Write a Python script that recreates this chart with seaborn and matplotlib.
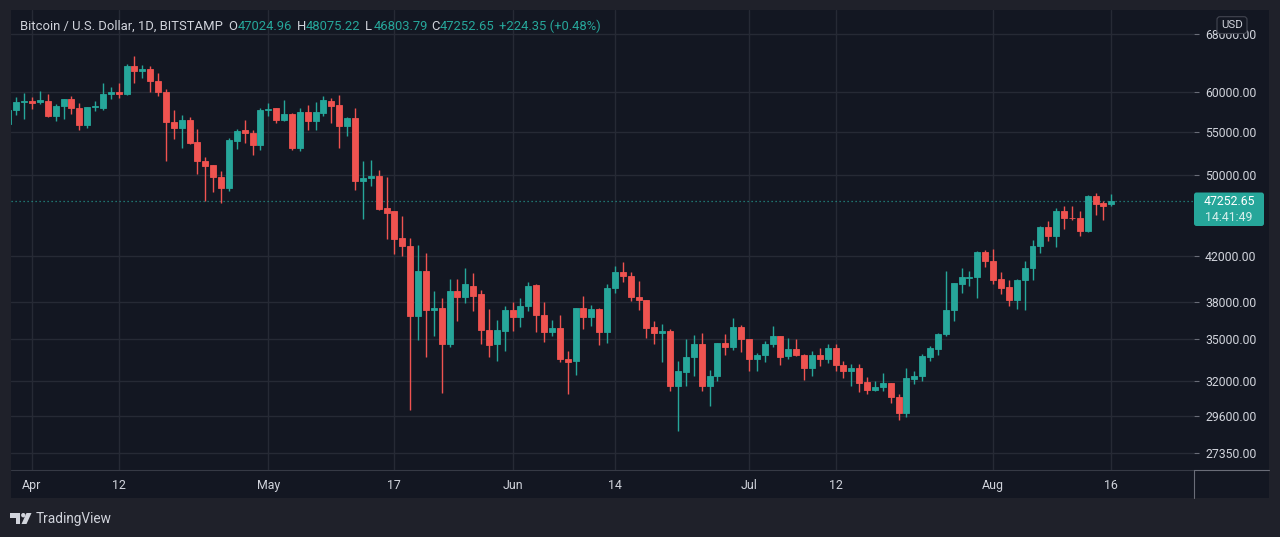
import numpy as np
import pandas as pd
import matplotlib
matplotlib.use("Agg")
import matplotlib.pyplot as plt
import matplotlib.dates as mdates
from matplotlib.patches import FancyBboxPatch, Rectangle, Polygon, Circle
from matplotlib.lines import Line2D
from matplotlib.ticker import NullLocator, FixedLocator, FixedFormatter
from matplotlib.transforms import IdentityTransform
import seaborn as sns

# ---------------- data ----------------
start_date = "2021-03-29"
end_date = "2021-08-16"

opens = [55900, 57600, 58700,
         58850, 58650, 58850, 56900, 58100, 59000, 57900, 55800, 58000, 57900,
         59700, 59900, 59700, 63500, 62800, 63100, 61400, 59900, 56200, 55500,
         56400, 53800, 51650, 51100, 49880, 48700, 53900, 55150, 54900, 53450,
         57650, 57850, 56400, 57200, 53100, 57400, 56250, 57300, 58850, 58250,
         55700, 56700, 49400, 49700, 49900, 46550, 46300, 43600, 42900, 36800,
         40600, 37300, 37450, 34650, 38900, 38350, 39350, 38600, 35750, 34650,
         35650,
         37300, 36750, 37600, 39400, 36900, 35550, 35850, 33550, 33400, 37450,
         36750, 37400, 35550, 39100, 40550, 40200, 38400, 38100, 35950, 35500,
         35650, 31600, 32600, 33700, 34650, 31600, 32350, 34700, 34450, 35950,
         35000, 33550, 33800, 34650, 35250, 33750, 34250, 33850, 32900, 33800,
         33500, 34350, 33100, 32700, 32900, 31900, 31350, 31550, 31800, 30850,
         29850, 32100, 32300, 33700, 34300, 35400, 37300, 39500, 40000, 40050,
         42300,
         41550, 39950, 39200, 38150, 39850, 40850, 42850, 44650, 43800, 46300,
         45600, 45550, 44350, 47800, 47050, 47024.96]
highs = [58100, 59350, 59800,
         59350, 60100, 59700, 58400, 59100, 59450, 58600, 58050, 58850, 61100,
         60600, 61100, 63700, 64800, 63650, 63500, 62500, 60300, 57600, 57050,
         56800, 55350, 52000, 51150, 50520, 54300, 55350, 56400, 55250, 57850,
         58550, 57900, 58900, 57250, 57950, 58300, 58650, 59500, 59200, 59550,
         56800, 57950, 51600, 51750, 50550, 49850, 46300, 45750, 43650, 43000,
         42250, 38900, 38300, 39950, 39950, 40900, 40450, 39000, 37400, 36500,
         37600,
         38000, 38300, 39650, 39450, 38000, 36500, 36900, 34150, 37500, 38500,
         37700, 37500, 39500, 41100, 41400, 40550, 39750, 38150, 36450, 36200,
         35800, 33400, 35000, 35300, 35500, 32750, 34750, 35400, 36650, 36150,
         35000, 34000, 34900, 36050, 35250, 35100, 35050, 33900, 34150, 34350,
         34650, 34650, 33400, 33150, 33200, 32250, 32000, 32500, 31800, 31100,
         32900, 32650, 33900, 34500, 35450, 40600, 39600, 40900, 40650, 42400,
         42500,
         42600, 40500, 39850, 39950, 41500, 43450, 44750, 45250, 46550, 46800,
         46800, 46300, 47950, 48100, 47300, 48075.22]
lows = [55500, 57000, 56500,
        57800, 58400, 56800, 56350, 56600, 57100, 55150, 55400, 57500, 57700,
        59000, 59200, 59600, 61200, 61850, 59900, 59500, 51600, 54150, 53100,
        53550, 50150, 47250, 48250, 47050, 48350, 53000, 53700, 52300, 52800,
        56850, 56000, 56300, 52900, 52700, 55150, 55150, 56850, 56050, 53100,
        54450, 48450, 45500, 48850, 46400, 43500, 42150, 42000, 30000, 34950,
        33650, 35250, 31150, 34400, 36450, 37900, 37250, 34650, 33700, 33400,
        34150,
        35650, 35950, 37200, 35600, 34800, 35250, 33300, 31100, 32400, 35800,
        36000, 34550, 34750, 38750, 39650, 38050, 37300, 35100, 34650, 33300,
        31250, 28700, 31600, 32350, 31300, 30250, 32000, 33850, 34200, 34050,
        32700, 32700, 33300, 34450, 33100, 33500, 33750, 32050, 32350, 33050,
        33250, 32650, 32200, 31600, 31200, 31100, 31250, 31250, 30500, 29350,
        29550, 31750, 31950, 33400, 33800, 35250, 36400, 38750, 39350, 38300,
        40950,
        39500, 38650, 37650, 37400, 37350, 39850, 42250, 43400, 42750, 44500,
        45350, 43800, 44250, 45850, 45400, 46803.79]
closes = [57600, 58700, 58800,
          58600, 58950, 56950, 58100, 59000, 57900, 55800, 58000, 58100, 59700,
          59900, 59700, 63500, 62800, 63100, 61350, 59900, 56200, 55500, 56400,
          53700, 51550, 51050, 49860, 48700, 54000, 55100, 54900, 53450, 57650,
          57800, 56400, 57200, 53100, 57400, 56250, 57350, 58900, 58150, 55700,
          56700, 49400, 49750, 49900, 46450, 46100, 43550, 42850, 36800, 40650,
          37300, 37450, 34650, 38900, 38400, 39450, 38500, 35750, 34550, 35750,
          37350,
          36750, 37600, 39350, 36900, 35550, 35850, 33550, 33350, 37450, 36750,
          37400, 35550, 39150, 40550, 40200, 38350, 38100, 35850, 35500, 35650,
          31600, 32650, 33650, 34650, 31600, 32350, 34700, 34450, 35950, 35000,
          33550, 33800, 34650, 35250, 33700, 34250, 33800, 32900, 33800, 33500,
          34350, 33100, 32700, 32900, 31800, 31350, 31550, 31800, 30850, 29850,
          32150, 32300, 33750, 34350, 35400, 37300, 39550, 40050, 40050, 42300,
          41500,
          39800, 39150, 38150, 39850, 40900, 42900, 44650, 43800, 46300, 45550,
          45550, 44350, 47850, 46950, 46800, 47252.65]

price_ticks = [27350, 29600, 32000, 35000, 38000, 42000, 50000, 55000, 60000, 68000]
date_ticks = ["2021-04-01", "2021-04-12", "2021-05-01", "2021-05-17", "2021-06-01",
              "2021-06-14", "2021-07-01", "2021-07-12", "2021-08-01", "2021-08-16"]
date_labels = ["Apr", "12", "May", "17", "Jun", "14", "Jul", "12", "Aug", "16"]

title_text = "Bitcoin / U.S. Dollar, 1D, BITSTAMP"
last_price = 47252.65
countdown = "14:41:49"
change_text = "+224.35 (+0.48%)"
currency = "USD"

# ---------------- style ----------------
W, H = 1280, 537
OUTER = "#1f212a"
PANE = "#131722"
GRID = "#262a35"
TXT = "#d1d4dc"
UP = "#26a69a"
DOWN = "#ef5350"
AXLINE = "#6a6d78"

sns.set_theme(style="dark", rc={"axes.facecolor": PANE, "figure.facecolor": OUTER,
                                "savefig.facecolor": OUTER})
plt.rcParams["font.family"] = ["Roboto", "DejaVu Sans"]

df = pd.DataFrame({"date": pd.date_range(start_date, end_date, freq="D"),
                   "open": opens, "high": highs, "low": lows, "close": closes})
df["up"] = df["close"] >= df["open"]
df["color"] = np.where(df["up"], UP, DOWN)
df["bottom"] = df[["open", "close"]].min(axis=1)
df["height"] = (df["close"] - df["open"]).abs()

fig = plt.figure(figsize=(W / 100, H / 100), dpi=100)

def px(x, y):
    return x / W, 1 - y / H

# pane background (chart + scales)
fig.add_artist(Rectangle(px(11, 498), (1269 - 11) / W, (498 - 10) / H,
                         transform=fig.transFigure, facecolor=PANE, edgecolor="none", zorder=-10))

ax_l, ax_r, ax_t, ax_b = 11, 1194, 10, 470
ax = fig.add_axes([ax_l / W, 1 - ax_b / H, (ax_r - ax_l) / W, (ax_b - ax_t) / H])
ax.set_facecolor(PANE)

# scales
px_per_day = 7.878
apr1 = mdates.date2num(pd.Timestamp("2021-04-01"))
ax.set_xlim(apr1 - (32 - ax_l) / px_per_day, apr1 + (ax_r - 32) / px_per_day)
ax.set_yscale("log")
ppl = 459.5
ax.set_ylim(60000 * np.exp((91.7 - ax_b) / ppl), 60000 * np.exp((91.7 - ax_t) / ppl))

# grid
ax.set_axisbelow(True)
for d in date_ticks:
    ax.axvline(mdates.date2num(pd.Timestamp(d)), color=GRID, lw=1.0, zorder=0)
for p in price_ticks:
    ax.axhline(p, color=GRID, lw=1.0, zorder=0)

# candles
xs = mdates.date2num(df["date"])
ax.vlines(xs, df["low"], df["high"], colors=df["color"], lw=1.0, zorder=2)
ax.bar(xs, df["height"].clip(lower=1e-6), bottom=df["bottom"], width=0.76,
       color=df["color"], edgecolor=df["color"], linewidth=0.6, zorder=3)

# last price dotted line
ax.axhline(last_price, color=UP, lw=0.9, ls=(0, (1, 2.2)), zorder=1, alpha=0.85)

# ticks
ax.yaxis.tick_right()
ax.yaxis.set_major_locator(FixedLocator(price_ticks))
ax.yaxis.set_major_formatter(FixedFormatter([f"{p:.2f}" for p in price_ticks]))
ax.yaxis.set_minor_locator(NullLocator())
ax.tick_params(axis="y", which="major", direction="out", length=3.8, width=0.8,
               color=AXLINE, pad=4.2, labelsize=8.8, labelcolor=TXT)
ax.set_xticks([mdates.date2num(pd.Timestamp(d)) for d in date_ticks])
ax.set_xticklabels(date_labels)
ax.xaxis.set_minor_locator(NullLocator())
ax.tick_params(axis="x", which="major", direction="out", length=3, width=0.8,
               color="#4a4d58", pad=3.5, labelsize=8.9, labelcolor=TXT)
ax.grid(False)
for s in ax.spines.values():
    s.set_visible(False)

# scale separators
fig.add_artist(Line2D([11 / W, 1194.3 / W], [1 - 469.5 / H, 1 - 469.5 / H],
                      transform=fig.transFigure, color="#363a45", lw=0.8, zorder=2))
fig.add_artist(Line2D([1194.3 / W, 1269 / W], [1 - 469.5 / H, 1 - 469.5 / H],
                      transform=fig.transFigure, color=AXLINE, lw=0.8, zorder=2))
fig.add_artist(Line2D([1194.3 / W, 1194.3 / W], [1 - 469.5 / H, 1 - 498 / H],
                      transform=fig.transFigure, color=AXLINE, lw=0.8, zorder=2))

# header
hy = 1 - 26.7 / H
def htext(x, s, c):
    fig.text(x / W, hy, s, color=c, fontsize=9.4, ha="left", va="center")
htext(20, title_text, TXT)
htext(228.5, "O", TXT); htext(237.8, f"{opens[-1]:.2f}", UP)
htext(297, "H", TXT); htext(306, f"{highs[-1]:.2f}", UP)
htext(365, "L", TXT); htext(373.5, f"{lows[-1]:.2f}", UP)
htext(431, "C", TXT); htext(440, f"{closes[-1]:.2f}", UP)
htext(498.7, change_text, UP)

# price badge
ident = IdentityTransform()
fig.add_artist(FancyBboxPatch((1194, H - 226), 70, 33.5,
                              boxstyle="round,pad=0,rounding_size=2.5",
                              transform=ident, facecolor=UP, edgecolor="none", zorder=4))
fig.text(1229 / W, 1 - 201.5 / H, f"{last_price:.2f}", color="white", fontsize=8.8,
         ha="center", va="center", zorder=5)
fig.text(1229 / W, 1 - 217.3 / H, countdown, color="#d6efec", fontsize=8.8,
         ha="center", va="center", zorder=5)

# currency box
fig.add_artist(FancyBboxPatch((1217, H - 33.5), 30, 16.8,
                              boxstyle="round,pad=0,rounding_size=3",
                              transform=ident, facecolor=PANE, edgecolor="#434651",
                              lw=0.8, zorder=4))
fig.text(1232 / W, 1 - 25.2 / H, currency, color=TXT, fontsize=8.2,
         ha="center", va="center", zorder=5)

# TradingView mark
LOGO = "#d1d4dc"
fig.add_artist(Polygon([(10, H - 513), (20, H - 513), (20, H - 524), (15.5, H - 524),
                        (15.5, H - 517.5), (10, H - 517.5)], closed=True,
                       transform=ident, facecolor=LOGO, edgecolor="none", zorder=4))
fig.add_artist(Circle((23.3, H - 515.2), 2.2, transform=ident, facecolor=LOGO,
                      edgecolor="none", zorder=4))
fig.add_artist(Polygon([(26.5, H - 513), (31.5, H - 513), (26.5, H - 524), (21.5, H - 524)],
                       closed=True, transform=ident, facecolor=LOGO, edgecolor="none", zorder=4))
fig.text(35.5 / W, 1 - 518.5 / H, "TradingView", color=LOGO, fontsize=9.8,
         ha="left", va="center")

fig.savefig("out.png", dpi=100, facecolor=OUTER)
